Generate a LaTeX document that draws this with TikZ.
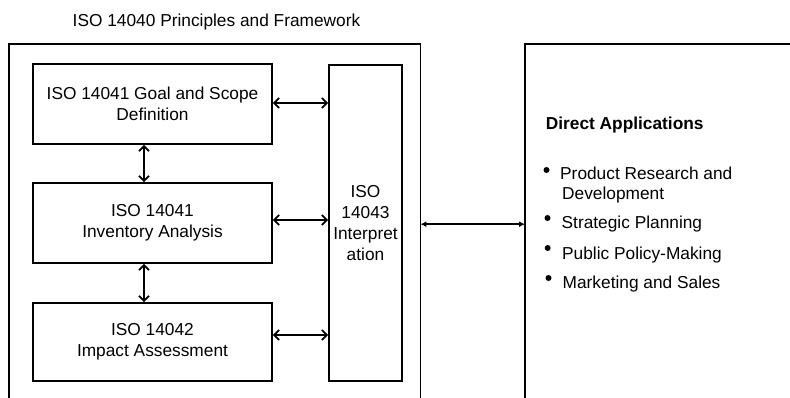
\documentclass[tikz,border=0pt]{standalone}
\usepackage{fontspec}
\setmainfont{Liberation Sans}
\usetikzlibrary{arrows.meta}
\begin{document}
\begin{tikzpicture}[x=1pt,y=-1pt,
  txt/.style={font=\fontsize{17.3}{21.3}\selectfont, inner sep=0pt},
  boldtxt/.style={font=\fontsize{17.3}{21.3}\selectfont\bfseries, inner sep=0pt},
  stagebox/.style={draw, line width=1.8pt, minimum width=239pt, minimum height=80pt, align=center, txt},
  framebox/.style={draw=none, inner sep=0pt, anchor=north west},
  frameline/.style={line width=1.8pt},
  barb/.style={line width=1.8pt, {Straight Barb[length=5pt,width=10pt]}-{Straight Barb[length=5pt,width=10pt]}},
  fa/.style={line width=1.8pt, {Latex[length=6pt,width=6pt]}-{Latex[length=6pt,width=6pt]}},
  dot/.style={circle, fill, inner sep=0pt, minimum size=6pt}
]
\useasboundingbox (0,0) rectangle (790,398);

\node[txt, anchor=base] (title) at (216.5,27) {ISO 14040 Principles and Framework};

\node[framebox, minimum width=411pt, minimum height=360pt] (fw) at (9,44) {};
\draw[frameline] (fw.south west) -- (fw.north west) -- (fw.north east) -- (fw.south east);

\node[framebox, minimum width=275pt, minimum height=360pt] (apps) at (525,44) {};
\draw[frameline] (apps.south west) -- (apps.north west) -- (apps.north east);

\node[stagebox] (goal) at (152.5,104) {ISO 14041 Goal and Scope\\Definition};
\node[stagebox] (inv) at (152.5,223) {ISO 14041\\Inventory Analysis};
\node[stagebox, minimum height=78pt] (imp) at (152.5,342) {ISO 14042\\Impact Assessment};
\node[draw, line width=1.8pt, minimum width=73pt, minimum height=316pt, align=center, txt] (interp) at (365.5,223) {ISO\\14043\\Interpret\\ation};

\draw[barb] ([xshift=-8.5pt]goal.south) -- ([xshift=-8.5pt]inv.north);
\draw[barb] ([xshift=-8.5pt]inv.south) -- ([xshift=-8.5pt]imp.north);

\coordinate (g1) at ([yshift=1pt]goal.east);
\coordinate (v1) at ([yshift=3pt]inv.east);
\coordinate (m1) at ([yshift=7pt]imp.east);
\draw[barb] (g1) -- (interp.west |- g1);
\draw[barb] (v1) -- (interp.west |- v1);
\draw[barb] (m1) -- (interp.west |- m1);

\draw[fa] (fw.east) -- (apps.west);

\node[boldtxt, anchor=base west] (head) at (545.7,130) {Direct Applications};

\node[dot] (b1) at (546.5,170) {};
\node[txt, anchor=base west] (i1a) at (560,180) {Product Research and};
\node[txt, anchor=base west] (i1b) at (562,200) {Development};
\node[dot] (b2) at (547.5,218) {};
\node[txt, anchor=base west] (i2) at (561.5,229) {Strategic Planning};
\node[dot] (b3) at (547.7,248) {};
\node[txt, anchor=base west] (i3) at (562,259) {Public Policy-Making};
\node[dot] (b4) at (548.5,278) {};
\node[txt, anchor=base west] (i4) at (562.5,288) {Marketing and Sales};
\end{tikzpicture}
\end{document}
